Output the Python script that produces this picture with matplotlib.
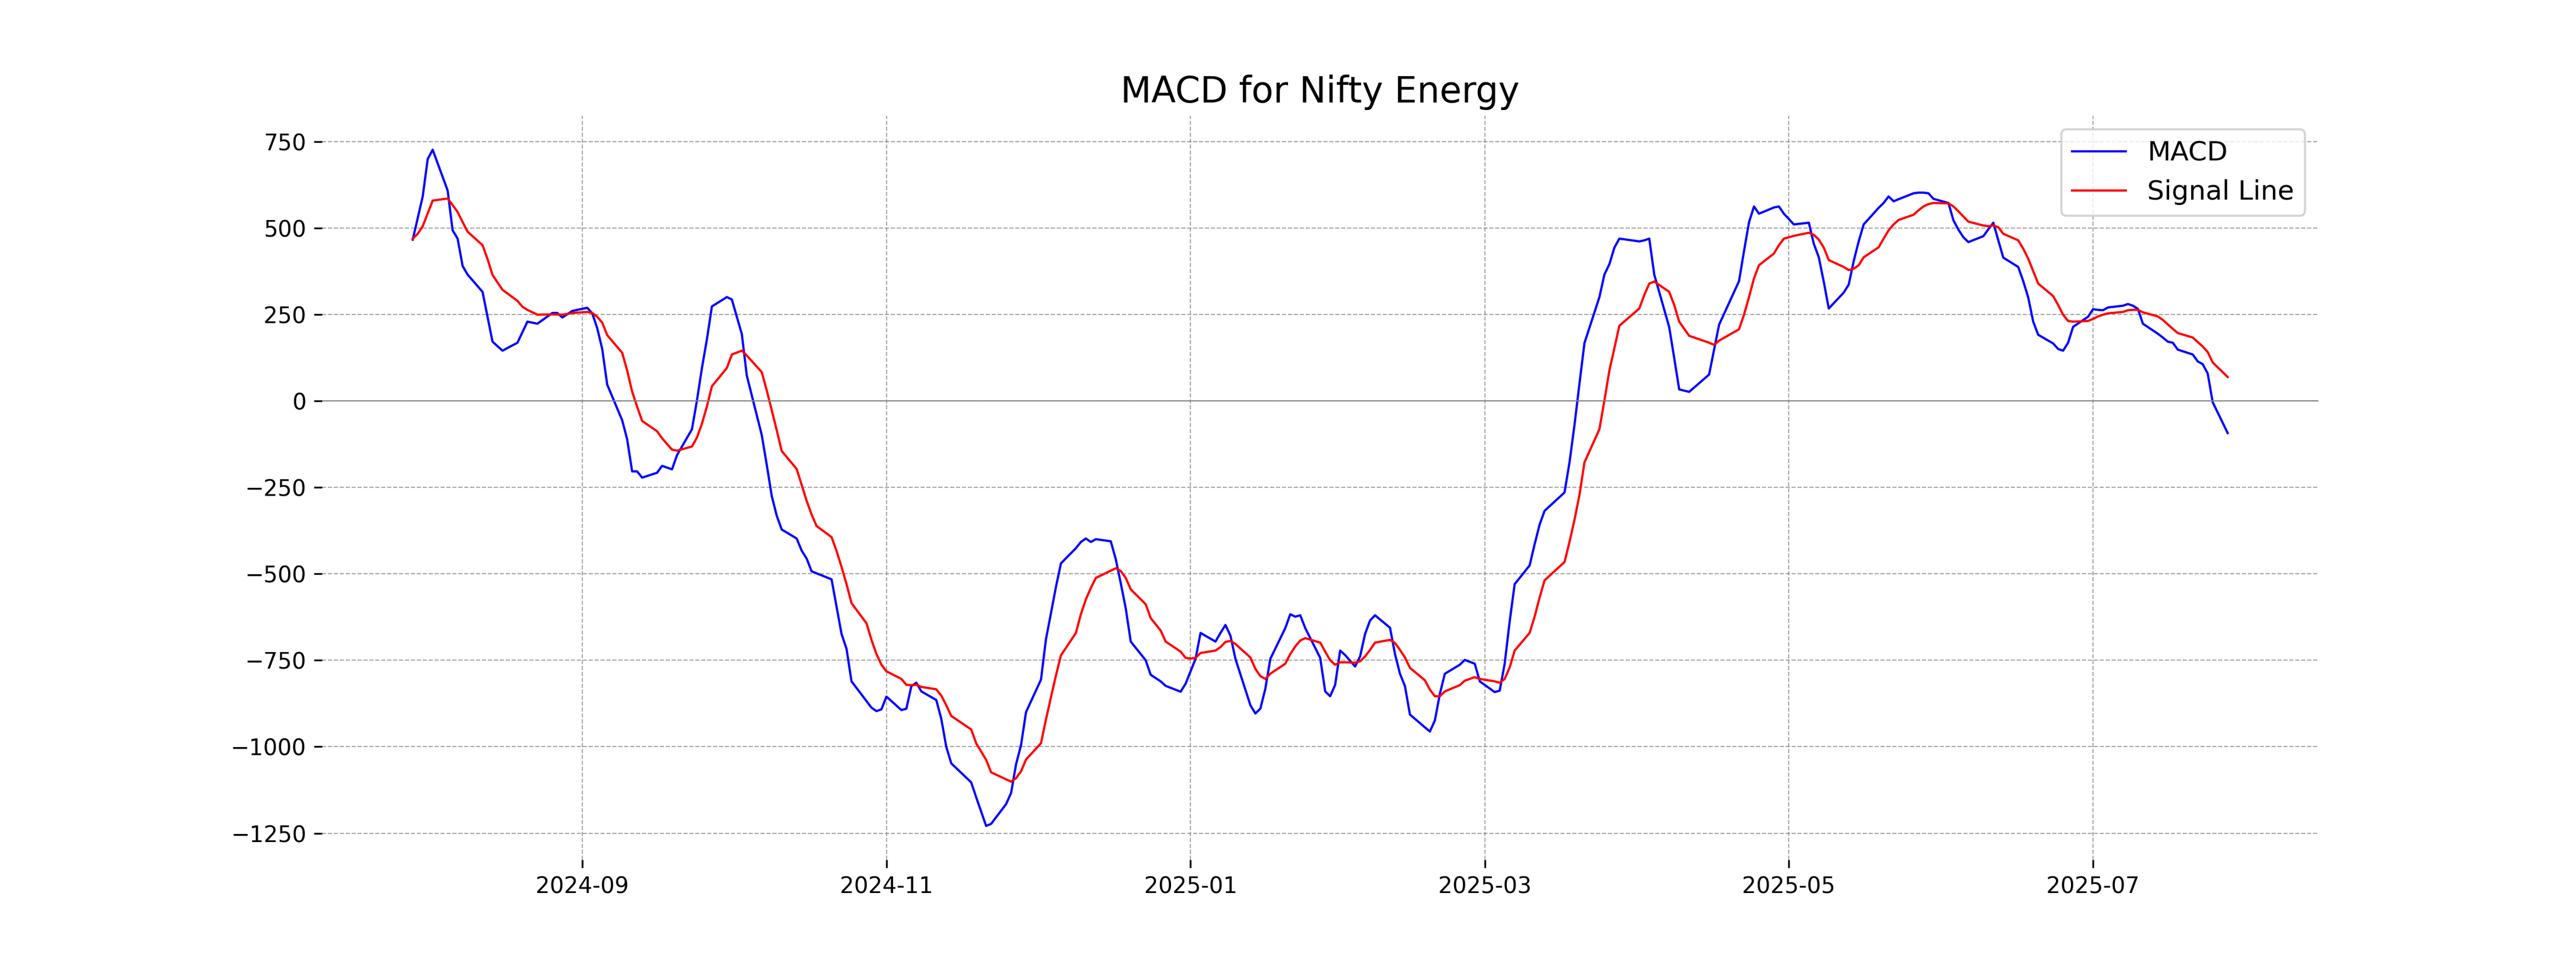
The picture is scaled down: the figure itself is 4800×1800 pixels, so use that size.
import matplotlib
matplotlib.use("Agg")
import matplotlib.pyplot as plt
import pandas as pd

title = "MACD for Nifty Energy"

macd_dates = [
    "2024-07-29", "2024-07-31", "2024-08-01", "2024-08-02", "2024-08-05", "2024-08-06", "2024-08-07",
    "2024-08-08", "2024-08-09", "2024-08-12", "2024-08-14", "2024-08-16", "2024-08-19", "2024-08-21",
    "2024-08-23", "2024-08-26", "2024-08-27", "2024-08-28", "2024-08-30", "2024-09-02", "2024-09-03",
    "2024-09-04", "2024-09-05", "2024-09-06", "2024-09-09", "2024-09-10", "2024-09-11", "2024-09-12",
    "2024-09-13", "2024-09-16", "2024-09-17", "2024-09-19", "2024-09-20", "2024-09-23", "2024-09-24",
    "2024-09-25", "2024-09-26", "2024-09-27", "2024-09-30", "2024-10-01", "2024-10-03", "2024-10-04",
    "2024-10-07", "2024-10-08", "2024-10-09", "2024-10-10", "2024-10-11", "2024-10-14", "2024-10-15",
    "2024-10-16", "2024-10-17", "2024-10-21", "2024-10-22", "2024-10-23", "2024-10-24", "2024-10-25",
    "2024-10-28", "2024-10-29", "2024-10-30", "2024-10-31", "2024-11-01", "2024-11-04", "2024-11-05",
    "2024-11-06", "2024-11-07", "2024-11-08", "2024-11-11", "2024-11-12", "2024-11-13", "2024-11-14",
    "2024-11-18", "2024-11-19", "2024-11-21", "2024-11-22", "2024-11-25", "2024-11-26", "2024-11-27",
    "2024-11-28", "2024-11-29", "2024-12-02", "2024-12-03", "2024-12-04", "2024-12-05", "2024-12-06",
    "2024-12-09", "2024-12-10", "2024-12-11", "2024-12-12", "2024-12-13", "2024-12-16", "2024-12-17",
    "2024-12-18", "2024-12-19", "2024-12-20", "2024-12-23", "2024-12-24", "2024-12-26", "2024-12-27",
    "2024-12-30", "2024-12-31", "2025-01-01", "2025-01-02", "2025-01-03", "2025-01-06", "2025-01-07",
    "2025-01-08", "2025-01-09", "2025-01-10", "2025-01-13", "2025-01-14", "2025-01-15", "2025-01-16",
    "2025-01-17", "2025-01-20", "2025-01-21", "2025-01-22", "2025-01-23", "2025-01-24", "2025-01-27",
    "2025-01-28", "2025-01-29", "2025-01-30", "2025-01-31", "2025-02-01", "2025-02-03", "2025-02-04",
    "2025-02-05", "2025-02-06", "2025-02-07", "2025-02-10", "2025-02-11", "2025-02-12", "2025-02-13",
    "2025-02-14", "2025-02-17", "2025-02-18", "2025-02-19", "2025-02-20", "2025-02-21", "2025-02-24",
    "2025-02-25", "2025-02-27", "2025-02-28", "2025-03-03", "2025-03-04", "2025-03-05", "2025-03-06",
    "2025-03-07", "2025-03-10", "2025-03-11", "2025-03-12", "2025-03-13", "2025-03-17", "2025-03-18",
    "2025-03-19", "2025-03-20", "2025-03-21", "2025-03-24", "2025-03-25", "2025-03-26", "2025-03-27",
    "2025-03-28", "2025-04-01", "2025-04-02", "2025-04-03", "2025-04-04", "2025-04-07", "2025-04-08",
    "2025-04-09", "2025-04-11", "2025-04-15", "2025-04-16", "2025-04-17", "2025-04-21", "2025-04-22",
    "2025-04-23", "2025-04-24", "2025-04-25", "2025-04-28", "2025-04-29", "2025-04-30", "2025-05-02",
    "2025-05-05", "2025-05-06", "2025-05-07", "2025-05-08", "2025-05-09", "2025-05-12", "2025-05-13",
    "2025-05-14", "2025-05-15", "2025-05-16", "2025-05-19", "2025-05-20", "2025-05-21", "2025-05-22",
    "2025-05-23", "2025-05-26", "2025-05-27", "2025-05-28", "2025-05-29", "2025-05-30", "2025-06-02",
    "2025-06-03", "2025-06-04", "2025-06-05", "2025-06-06", "2025-06-09", "2025-06-10", "2025-06-11",
    "2025-06-12", "2025-06-13", "2025-06-16", "2025-06-17", "2025-06-18", "2025-06-19", "2025-06-20",
    "2025-06-23", "2025-06-24", "2025-06-25", "2025-06-26", "2025-06-27", "2025-06-30", "2025-07-01",
    "2025-07-02", "2025-07-03", "2025-07-04", "2025-07-07", "2025-07-08", "2025-07-09", "2025-07-10",
    "2025-07-11", "2025-07-14", "2025-07-15", "2025-07-16", "2025-07-17", "2025-07-18", "2025-07-21",
    "2025-07-22", "2025-07-23", "2025-07-24", "2025-07-25", "2025-07-28",
]
macd_values = [
    466, 591, 699, 726, 608, 493, 469,
    390, 365, 315, 171, 145, 168, 229,
    223, 254, 254, 241, 260, 269, 253,
    210, 150, 47, -56, -111, -204, -204,
    -222, -208, -188, -198, -157, -82, 1,
    95, 178, 273, 300, 293, 193, 73,
    -99, -185, -275, -332, -372, -398, -433,
    -456, -493, -516, -595, -674, -717, -811,
    -868, -887, -897, -892, -855, -894, -890,
    -825, -815, -840, -865, -919, -1000, -1048,
    -1103, -1146, -1229, -1223, -1166, -1134, -1051,
    -995, -900, -806, -689, -614, -538, -470,
    -426, -408, -398, -408, -400, -406, -458,
    -527, -600, -696, -750, -792, -811, -824,
    -841, -818, -782, -746, -671, -696, -671,
    -648, -679, -746, -880, -904, -890, -832,
    -746, -657, -617, -624, -620, -657, -743,
    -840, -854, -821, -722, -735, -768, -739,
    -674, -635, -620, -656, -732, -789, -825,
    -907, -944, -956, -924, -847, -789, -763,
    -749, -760, -811, -842, -838, -760, -638,
    -530, -476, -415, -358, -318, -265, -178,
    -70, 50, 167, 300, 365, 395, 443,
    469, 461, 464, 469, 365, 213, 124,
    33, 26, 76, 148, 220, 346, 433,
    516, 562, 541, 559, 562, 541, 510,
    515, 454, 415, 344, 267, 313, 336,
    404, 461, 510, 558, 572, 591, 577,
    583, 600, 602, 602, 600, 584, 572,
    522, 495, 473, 459, 476, 496, 515,
    464, 414, 387, 346, 299, 229, 191,
    166, 150, 145, 168, 214, 243, 265,
    263, 262, 270, 275, 280, 275, 266,
    223, 194, 183, 171, 168, 148, 134,
    114, 106, 79, -4, -93,
]

signal_dates = [
    "2024-07-29", "2024-07-30", "2024-07-31", "2024-08-01", "2024-08-02", "2024-08-05", "2024-08-06",
    "2024-08-07", "2024-08-08", "2024-08-09", "2024-08-12", "2024-08-13", "2024-08-14", "2024-08-16",
    "2024-08-19", "2024-08-20", "2024-08-21", "2024-08-23", "2024-08-26", "2024-08-28", "2024-08-30",
    "2024-09-02", "2024-09-03", "2024-09-04", "2024-09-05", "2024-09-06", "2024-09-09", "2024-09-10",
    "2024-09-11", "2024-09-12", "2024-09-13", "2024-09-16", "2024-09-17", "2024-09-18", "2024-09-19",
    "2024-09-20", "2024-09-23", "2024-09-24", "2024-09-25", "2024-09-26", "2024-09-27", "2024-09-30",
    "2024-10-01", "2024-10-03", "2024-10-04", "2024-10-07", "2024-10-08", "2024-10-09", "2024-10-10",
    "2024-10-11", "2024-10-14", "2024-10-15", "2024-10-16", "2024-10-17", "2024-10-18", "2024-10-21",
    "2024-10-22", "2024-10-23", "2024-10-24", "2024-10-25", "2024-10-28", "2024-10-29", "2024-10-30",
    "2024-10-31", "2024-11-01", "2024-11-04", "2024-11-05", "2024-11-06", "2024-11-07", "2024-11-08",
    "2024-11-11", "2024-11-12", "2024-11-13", "2024-11-14", "2024-11-18", "2024-11-19", "2024-11-21",
    "2024-11-22", "2024-11-26", "2024-11-27", "2024-11-28", "2024-11-29", "2024-12-02", "2024-12-03",
    "2024-12-04", "2024-12-05", "2024-12-06", "2024-12-09", "2024-12-10", "2024-12-11", "2024-12-12",
    "2024-12-13", "2024-12-17", "2024-12-18", "2024-12-19", "2024-12-20", "2024-12-23", "2024-12-24",
    "2024-12-26", "2024-12-27", "2024-12-30", "2024-12-31", "2025-01-01", "2025-01-02", "2025-01-03",
    "2025-01-06", "2025-01-07", "2025-01-08", "2025-01-09", "2025-01-10", "2025-01-13", "2025-01-14",
    "2025-01-15", "2025-01-16", "2025-01-17", "2025-01-20", "2025-01-21", "2025-01-22", "2025-01-23",
    "2025-01-24", "2025-01-27", "2025-01-28", "2025-01-29", "2025-01-30", "2025-01-31", "2025-02-01",
    "2025-02-03", "2025-02-04", "2025-02-05", "2025-02-06", "2025-02-07", "2025-02-10", "2025-02-11",
    "2025-02-12", "2025-02-13", "2025-02-14", "2025-02-17", "2025-02-18", "2025-02-19", "2025-02-20",
    "2025-02-21", "2025-02-24", "2025-02-25", "2025-02-27", "2025-02-28", "2025-03-03", "2025-03-04",
    "2025-03-05", "2025-03-06", "2025-03-07", "2025-03-10", "2025-03-11", "2025-03-12", "2025-03-13",
    "2025-03-17", "2025-03-18", "2025-03-19", "2025-03-20", "2025-03-21", "2025-03-24", "2025-03-25",
    "2025-03-26", "2025-03-27", "2025-03-28", "2025-04-01", "2025-04-02", "2025-04-03", "2025-04-04",
    "2025-04-07", "2025-04-08", "2025-04-09", "2025-04-11", "2025-04-15", "2025-04-16", "2025-04-17",
    "2025-04-21", "2025-04-22", "2025-04-23", "2025-04-24", "2025-04-25", "2025-04-28", "2025-04-29",
    "2025-04-30", "2025-05-02", "2025-05-05", "2025-05-06", "2025-05-07", "2025-05-08", "2025-05-09",
    "2025-05-12", "2025-05-13", "2025-05-14", "2025-05-15", "2025-05-16", "2025-05-19", "2025-05-20",
    "2025-05-21", "2025-05-22", "2025-05-23", "2025-05-26", "2025-05-27", "2025-05-28", "2025-05-29",
    "2025-05-30", "2025-06-02", "2025-06-03", "2025-06-04", "2025-06-05", "2025-06-06", "2025-06-09",
    "2025-06-10", "2025-06-11", "2025-06-12", "2025-06-13", "2025-06-16", "2025-06-17", "2025-06-18",
    "2025-06-19", "2025-06-20", "2025-06-23", "2025-06-24", "2025-06-25", "2025-06-26", "2025-06-27",
    "2025-06-30", "2025-07-01", "2025-07-02", "2025-07-03", "2025-07-04", "2025-07-07", "2025-07-08",
    "2025-07-09", "2025-07-10", "2025-07-11", "2025-07-14", "2025-07-15", "2025-07-16", "2025-07-17",
    "2025-07-18", "2025-07-21", "2025-07-22", "2025-07-23", "2025-07-24", "2025-07-25", "2025-07-28",
]
signal_values = [
    469, 483, 505, 542, 579, 585, 566,
    546, 517, 489, 450, 410, 364, 321,
    289, 272, 263, 249, 250, 249, 254,
    257, 254, 243, 226, 190, 139, 88,
    27, -17, -58, -88, -108, -125, -141,
    -144, -132, -106, -66, -16, 42, 95,
    134, 145, 131, 83, 30, -27, -85,
    -145, -197, -243, -289, -329, -362, -394,
    -434, -480, -530, -585, -643, -691, -732,
    -763, -782, -804, -821, -822, -821, -827,
    -834, -852, -880, -911, -950, -990, -1038,
    -1074, -1101, -1091, -1071, -1037, -990, -921,
    -857, -794, -736, -671, -617, -574, -541,
    -512, -484, -492, -512, -545, -588, -628,
    -664, -696, -725, -743, -745, -743, -729,
    -722, -712, -697, -694, -703, -742, -775,
    -796, -804, -789, -760, -732, -710, -693,
    -686, -699, -725, -750, -763, -756, -756,
    -757, -753, -739, -720, -699, -691, -700,
    -720, -742, -772, -808, -835, -854, -854,
    -840, -822, -809, -799, -804, -811, -815,
    -804, -771, -722, -671, -624, -569, -519,
    -466, -408, -344, -272, -178, -82, 1,
    88, 152, 217, 267, 306, 339, 345,
    315, 277, 229, 188, 168, 162, 174,
    207, 249, 300, 354, 392, 426, 450,
    469, 477, 486, 480, 466, 443, 407,
    387, 378, 382, 392, 415, 444, 469,
    493, 510, 523, 538, 551, 562, 569,
    572, 571, 562, 548, 533, 518, 507,
    505, 507, 502, 483, 464, 440, 411,
    375, 339, 303, 277, 249, 231, 229,
    231, 237, 244, 249, 253, 257, 262,
    263, 263, 256, 244, 234, 221, 208,
    196, 183, 170, 157, 141, 111, 69,
]

macd_x = pd.to_datetime(macd_dates)
signal_x = pd.to_datetime(signal_dates)

fig, ax = plt.subplots(figsize=(16, 6), dpi=300)
ax.plot(macd_x, macd_values, color="blue", linewidth=1, label="MACD")
ax.plot(signal_x, signal_values, color="red", linewidth=1, label="Signal Line")
ax.axhline(0, color="gray", linewidth=0.5)
ax.set_title(title, fontsize=16)
ax.grid(True, linestyle="--", linewidth=0.5, color="gray", alpha=0.7)
ax.legend(loc="upper right", fontsize=12)
for s in ax.spines.values():
    s.set_visible(False)

fig.savefig("out.png", dpi=300)
